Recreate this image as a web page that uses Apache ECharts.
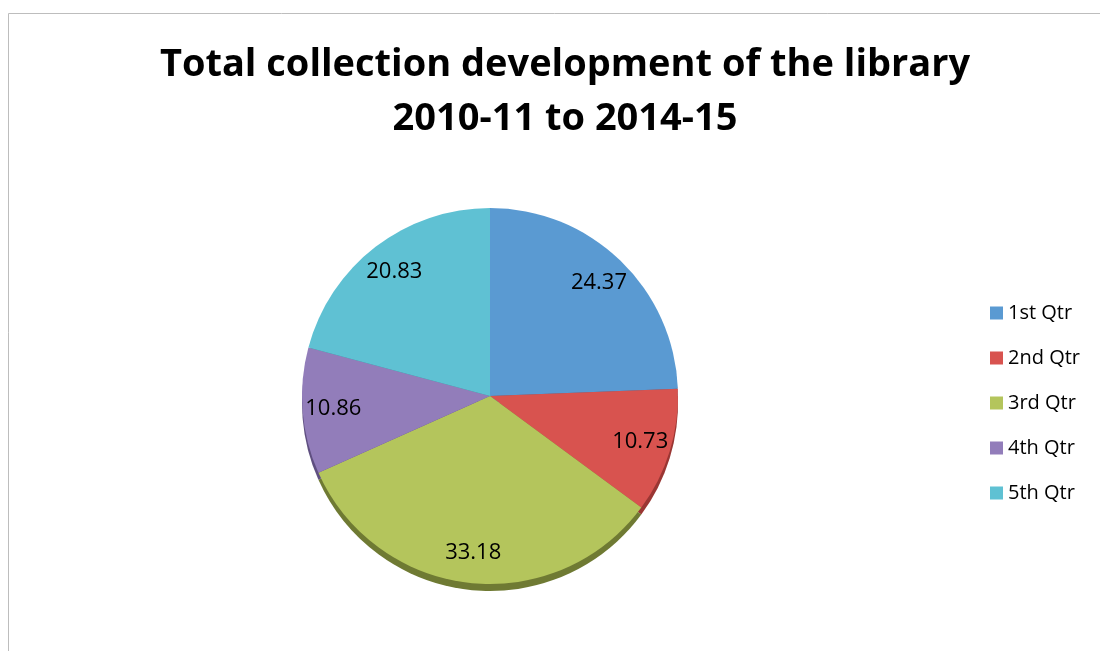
<!DOCTYPE html>
<html>
<head>
<meta charset="utf-8">
<script src="https://cdn.jsdelivr.net/npm/echarts@6/dist/echarts.min.js"></script>
<style>
  html, body { margin: 0; padding: 0; background: #fff; }
  #chart { width: 1100px; height: 651px; }
</style>
</head>
<body>
<div id="chart"></div>
<script>
// data
const categories = ['1st Qtr', '2nd Qtr', '3rd Qtr', '4th Qtr', '5th Qtr']
const values = [24.37, 10.73, 33.18, 10.86, 20.83]
const colors = ['#5a9ad2', '#d8534f', '#b4c55c', '#927dba', '#5fc1d3']
const edgeColors = ['#3c6d98', '#9a3633', '#6f7a33', '#5f4f80', '#3d8796']

const center = [490, 396]
const radius = 188

const chart = echarts.init(document.getElementById('chart'))

chart.setOption({
  animation: false,
  title: {
    text: 'Total collection development of the library\n2010-11 to 2014-15',
    left: 560,
    top: 33,
    textAlign: 'center',
    textStyle: {
      fontFamily: 'Open Sans',
      fontSize: 38,
      fontWeight: 'bold',
      color: '#000',
      lineHeight: 54
    }
  },
  legend: {
    orient: 'vertical',
    left: 985,
    top: 298,
    icon: 'rect',
    itemWidth: 13,
    itemHeight: 13,
    itemGap: 25,
    data: categories,
    textStyle: {
      fontFamily: 'Open Sans',
      fontSize: 20,
      color: '#000'
    }
  },
  graphic: [
    {
      type: 'rect',
      silent: true,
      shape: { x: 8.5, y: 13.5, width: 1200, height: 700 },
      style: { fill: 'none', stroke: '#bdbdbd', lineWidth: 1 }
    }
  ],
  series: [
    {
      type: 'pie',
      z: 3,
      center: center,
      radius: [0, radius],
      startAngle: 90,
      label: { show: false },
      labelLine: { show: false },
      itemStyle: { borderWidth: 0 },
      data: categories.map((name, i) => ({
        name: name,
        value: values[i],
        itemStyle: { color: colors[i] }
      }))
    },
    // darker copy shifted down: the 3D edge
    {
      type: 'pie',
      z: 1,
      silent: true,
      center: [center[0], center[1] + 7],
      radius: [0, radius],
      startAngle: 90,
      legendHoverLink: false,
      label: { show: false },
      labelLine: { show: false },
      data: categories.map((name, i) => ({
        name: name,
        value: values[i],
        itemStyle: { color: edgeColors[i] }
      }))
    },
    // transparent ring that carries the labels near the rim
    {
      type: 'pie',
      z: 4,
      silent: true,
      center: center,
      radius: [radius * 0.64, radius],
      startAngle: 90,
      itemStyle: { color: 'rgba(0,0,0,0)' },
      label: {
        show: true,
        position: 'inside',
        fontFamily: 'Open Sans',
        fontSize: 22,
        color: '#000',
        formatter: p => p.value.toFixed(2)
      },
      labelLine: { show: false },
      data: categories.map((name, i) => ({ name: name, value: values[i] }))
    }
  ]
})
</script>
</body>
</html>
